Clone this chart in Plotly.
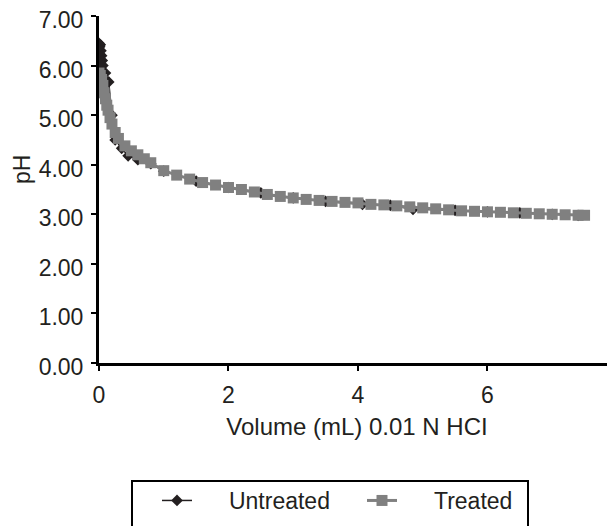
import plotly.graph_objects as go

# titration volumes (mL of 0.01 N HCl) and pH readings
untreated_vol = [0, 0.01, 0.02, 0.03, 0.04, 0.05, 0.06, 0.1, 0.15, 0.2, 0.25, 0.35, 0.45, 0.6,
                 0.8, 1.0, 1.5, 2.0, 2.5, 3.0, 3.5, 4.07, 4.5, 4.85, 5.5, 6.0, 6.5, 7.0, 7.4]
untreated_ph = [6.45, 6.38, 6.42, 6.3, 6.2, 6.1, 6.0, 5.85, 5.67, 5.0, 4.5, 4.33, 4.18, 4.1,
                4.02, 3.87, 3.67, 3.54, 3.43, 3.33, 3.26, 3.2, 3.18, 3.1, 3.08, 3.05, 3.03, 3.0, 2.98]

treated_vol = [0, 0.02, 0.04, 0.06, 0.08, 0.1, 0.12, 0.14, 0.17, 0.2, 0.25, 0.3, 0.4, 0.5, 0.6,
               0.7, 0.8, 1.0, 1.2, 1.4, 1.6, 1.8, 2.0, 2.2, 2.4, 2.6, 2.8, 3.0, 3.2, 3.4, 3.6,
               3.8, 4.0, 4.2, 4.4, 4.6, 4.8, 5.0, 5.2, 5.4, 5.6, 5.8, 6.0, 6.2, 6.4, 6.6,
               6.8, 7.0, 7.2, 7.4, 7.5]
treated_ph = [5.85, 5.8, 5.72, 5.6, 5.45, 5.33, 5.2, 5.1, 4.95, 4.82, 4.65, 4.53, 4.38, 4.28, 4.2,
              4.12, 4.04, 3.88, 3.79, 3.71, 3.64, 3.59, 3.54, 3.5, 3.45, 3.4, 3.36, 3.33, 3.3, 3.28, 3.26,
              3.24, 3.23, 3.2, 3.19, 3.17, 3.15, 3.13, 3.11, 3.09, 3.07, 3.06, 3.05, 3.04, 3.03, 3.02,
              3.01, 3.0, 2.99, 2.98, 2.98]

y_ticks = [0, 1, 2, 3, 4, 5, 6, 7]
y_labels = ["0.00", "1.00", "2.00", "3.00", "4.00", "5.00", "6.00", "7.00"]
x_ticks = [0, 2, 4, 6]

ink = "#231f20"
grey = "#808080"
family = "Liberation Sans, Arial, sans-serif"
font = dict(family=family, size=23, color=ink)
gap = "\u00a0" * 5

# plot area in figure pixels (page adds an 8px body margin)
left, top, bottom, width = 91, 8, 355, 516
height = bottom - top

fig = go.Figure()
fig.add_trace(go.Scatter(x=untreated_vol, y=untreated_ph, name=gap + "Untreated", mode="lines+markers",
                         line=dict(color=ink, width=1.5),
                         marker=dict(symbol="diamond", size=9, color=ink)))
fig.add_trace(go.Scatter(x=treated_vol, y=treated_ph, name=gap + "Treated", mode="lines+markers",
                         line=dict(color=grey, width=3),
                         marker=dict(symbol="square", size=11, color=grey)))

fig.update_layout(
    width=615, height=526,
    margin=dict(l=left, r=615 - left - width, t=top, b=526 - bottom, autoexpand=False),
    paper_bgcolor="white", plot_bgcolor="white",
    font=font,
    showlegend=True,
    legend=dict(orientation="h", x=(149 - left) / width, xanchor="left",
                y=(bottom - 471) / height, yanchor="top",
                font=font, entrywidth=160, borderwidth=0, bgcolor="rgba(0,0,0,0)"),
    shapes=[dict(type="rect", xref="paper", yref="paper",
                 x0=(124 - left) / width, x1=(520 - left) / width,
                 y0=(bottom - 560) / height, y1=(bottom - 473) / height,
                 line=dict(color="black", width=2))],
    annotations=[dict(text="pH", xref="paper", yref="paper",
                      x=(14 - left) / width, y=(bottom - 162) / height,
                      xanchor="center", yanchor="middle",
                      textangle=-90, showarrow=False, font=font)],
)

fig.update_xaxes(range=[0, 7.97], tickvals=x_ticks, showgrid=False, zeroline=False, automargin=False,
                 showline=True, linecolor="black", linewidth=3,
                 ticks="outside", ticklen=5, tickwidth=2, tickcolor="black", ticklabelstandoff=4,
                 title=dict(text="Volume (mL) 0.01 N HCI", standoff=12,
                            font=dict(family=family, size=24, color=ink)),
                 tickfont=font)
fig.update_yaxes(range=[0, 7], tickvals=y_ticks, ticktext=y_labels, showgrid=False, zeroline=False,
                 automargin=False, showline=True, linecolor="black", linewidth=3,
                 ticks="outside", ticklen=5, tickwidth=2, tickcolor="black",
                 ticklabelstandoff=3, ticklabelshift=4, ticklabeloverflow="allow",
                 tickfont=font)

fig.write_html("out.html")
